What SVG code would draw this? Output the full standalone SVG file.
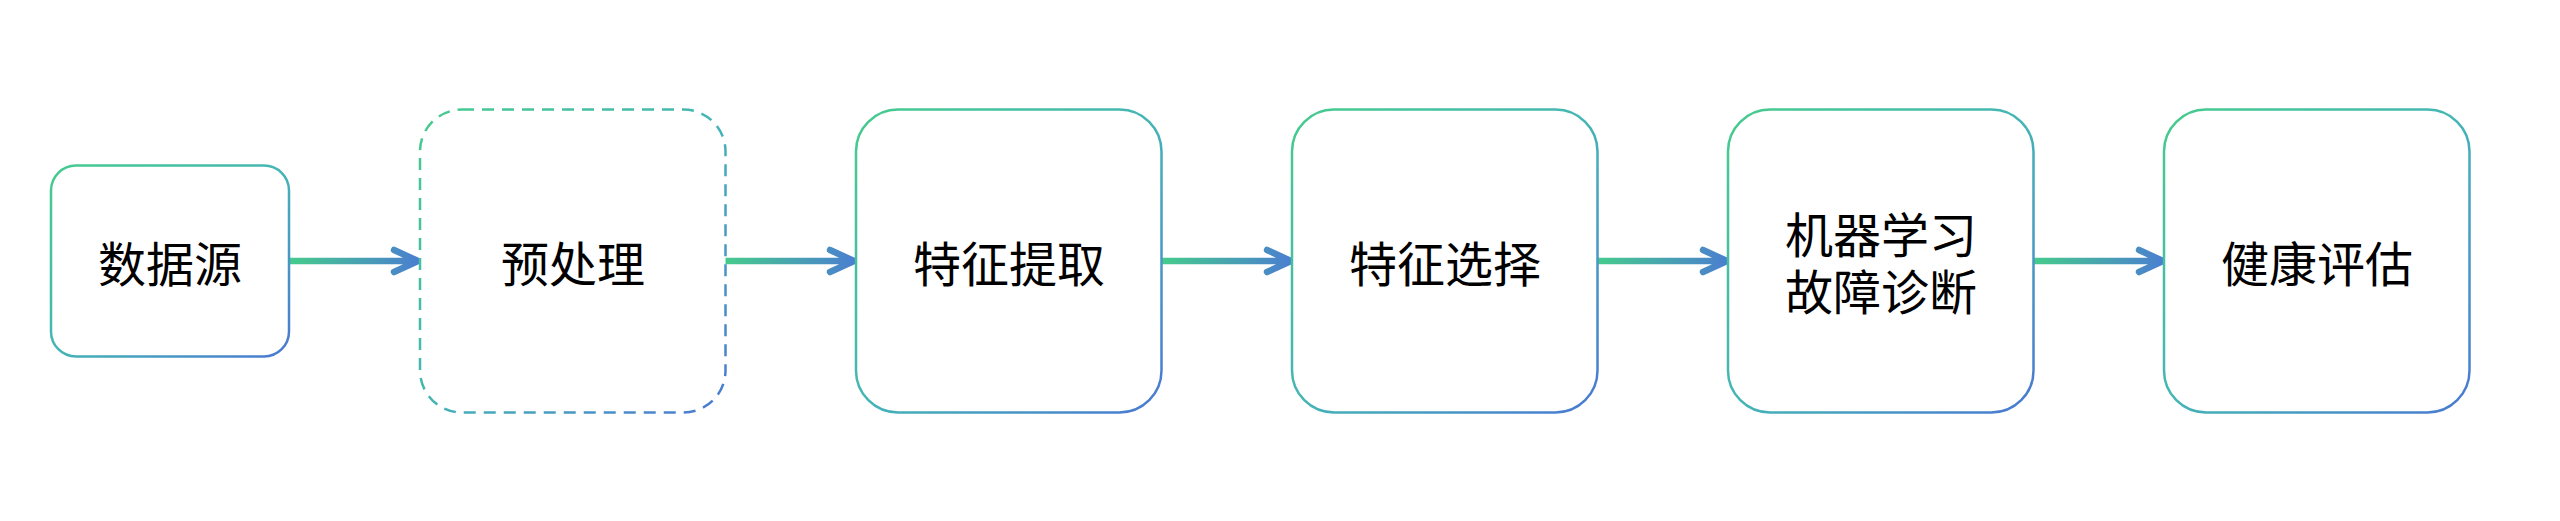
<svg xmlns="http://www.w3.org/2000/svg" width="2560" height="521" viewBox="0 0 2560 521">
<defs>
<linearGradient id="gBox" x1="0" y1="0" x2="1" y2="1">
<stop offset="0" stop-color="#45CB8C"/>
<stop offset="0.5" stop-color="#44B5B5"/>
<stop offset="1" stop-color="#4A78D2"/>
</linearGradient>
<linearGradient id="gLine" x1="0" y1="0" x2="1" y2="0">
<stop offset="0" stop-color="#45CB8C"/>
<stop offset="1" stop-color="#4A7FD0"/>
</linearGradient>
<style>
.box{fill:#fff;stroke:url(#gBox);stroke-width:2.5}
.dash{stroke-dasharray:12 8}
.lbl{font-family:"Noto Sans CJK SC","Noto Sans",sans-serif;font-size:48px;fill:#000;text-anchor:middle;dominant-baseline:central}
.ln{fill:none;stroke:url(#gLine);stroke-width:6.5;stroke-linecap:round;stroke-linejoin:round}
</style>
</defs>
<g id="connectors">
<g transform="translate(290,0)"><path class="ln" d="M0 261 H128 M104 250 L128 261 L104 272"/></g>
<g transform="translate(726,0)"><path class="ln" d="M0 261 H128 M104 250 L128 261 L104 272"/></g>
<g transform="translate(1162,0)"><path class="ln" d="M0 261 H129 M105 250 L129 261 L105 272"/></g>
<g transform="translate(1598,0)"><path class="ln" d="M0 261 H129 M105 250 L129 261 L105 272"/></g>
<g transform="translate(2034,0)"><path class="ln" d="M0 261 H129 M105 250 L129 261 L105 272"/></g>
</g>
<g id="n1"><rect class="box" x="51" y="165.5" width="238" height="191" rx="25"/><text class="lbl" x="170" y="261">数据源</text></g>
<g id="n2"><rect class="box dash" x="420" y="109.5" width="305.5" height="303" rx="42"/><text class="lbl" x="573" y="261">预处理</text></g>
<g id="n3"><rect class="box" x="856" y="109.5" width="305.5" height="303" rx="42"/><text class="lbl" x="1009" y="261">特征提取</text></g>
<g id="n4"><rect class="box" x="1292" y="109.5" width="305.5" height="303" rx="42"/><text class="lbl" x="1445" y="261">特征选择</text></g>
<g id="n5"><rect class="box" x="1728" y="109.5" width="305.5" height="303" rx="42"/><text class="lbl" x="1881" y="232"><tspan x="1881" y="232">机器学习</tspan><tspan x="1881" y="289">故障诊断</tspan></text></g>
<g id="n6"><rect class="box" x="2164" y="109.5" width="305.5" height="303" rx="42"/><text class="lbl" x="2317" y="261">健康评估</text></g>
</svg>
